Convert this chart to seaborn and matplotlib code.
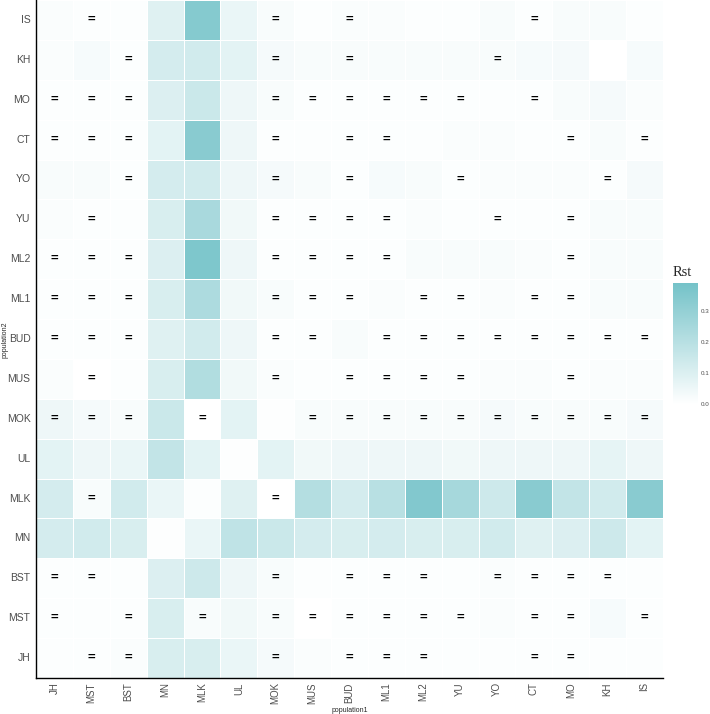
"""Rst heatmap between populations, with '=' marks on non-significant pairs."""

import matplotlib

matplotlib.use("Agg")

import matplotlib.pyplot as plt
import numpy as np
import pandas as pd
import seaborn as sns
from matplotlib.colors import LinearSegmentedColormap

# x axis (population1), left to right
POP1 = ["JH", "MST", "BST", "MN", "MLK", "UL", "MOK", "MUS", "BUD",
        "ML1", "ML2", "YU", "YO", "CT", "MO", "KH", "IS"]
# y axis (population2), top to bottom
POP2 = ["IS", "KH", "MO", "CT", "YO", "YU", "ML2", "ML1", "BUD",
        "MUS", "MOK", "UL", "MLK", "MN", "BST", "MST", "JH"]

# Rst values, one row per population2 entry, columns in POP1 order
RST_IS = [0.015, 0.01, 0.01, 0.09, 0.34, 0.06, 0.02, 0.01, 0.015, 0.015, 0.01, 0.01, 0.02, 0.01, 0.02, 0.02, 0.01]
RST_KH = [0.015, 0.025, 0.01, 0.12, 0.13, 0.08, 0.03, 0.02, 0.02, 0.02, 0.02, 0.02, 0.02, 0.025, 0.03, 0.0, 0.025]
RST_MO = [0.01, 0.01, 0.01, 0.10, 0.15, 0.05, 0.02, 0.01, 0.01, 0.01, 0.01, 0.01, 0.01, 0.01, 0.02, 0.03, 0.015]
RST_CT = [0.01, 0.01, 0.01, 0.08, 0.33, 0.05, 0.01, 0.01, 0.01, 0.01, 0.01, 0.015, 0.015, 0.01, 0.01, 0.02, 0.01]
RST_YO = [0.02, 0.02, 0.01, 0.12, 0.13, 0.05, 0.03, 0.02, 0.01, 0.025, 0.02, 0.01, 0.015, 0.015, 0.015, 0.01, 0.03]
RST_YU = [0.015, 0.01, 0.01, 0.11, 0.24, 0.04, 0.01, 0.01, 0.01, 0.01, 0.015, 0.01, 0.01, 0.01, 0.01, 0.02, 0.02]
RST_ML2 = [0.01, 0.01, 0.01, 0.10, 0.36, 0.05, 0.01, 0.01, 0.01, 0.01, 0.02, 0.02, 0.02, 0.015, 0.01, 0.02, 0.02]
RST_ML1 = [0.01, 0.01, 0.01, 0.11, 0.23, 0.04, 0.02, 0.01, 0.01, 0.015, 0.01, 0.01, 0.015, 0.01, 0.01, 0.02, 0.02]
RST_BUD = [0.01, 0.01, 0.01, 0.09, 0.13, 0.05, 0.01, 0.01, 0.02, 0.01, 0.01, 0.01, 0.01, 0.01, 0.01, 0.01, 0.01]
RST_MUS = [0.015, 0.0, 0.01, 0.11, 0.22, 0.04, 0.015, 0.01, 0.01, 0.01, 0.01, 0.01, 0.015, 0.015, 0.01, 0.015, 0.015]
RST_MOK = [0.05, 0.03, 0.02, 0.15, 0.0, 0.08, 0.005, 0.02, 0.02, 0.02, 0.02, 0.02, 0.03, 0.02, 0.02, 0.02, 0.03]
RST_UL = [0.08, 0.05, 0.06, 0.17, 0.08, 0.005, 0.08, 0.04, 0.05, 0.05, 0.05, 0.04, 0.05, 0.05, 0.05, 0.07, 0.05]
RST_MLK = [0.12, 0.02, 0.13, 0.06, 0.01, 0.09, 0.0, 0.21, 0.12, 0.20, 0.35, 0.25, 0.14, 0.33, 0.17, 0.13, 0.33]
RST_MN = [0.12, 0.13, 0.11, 0.005, 0.06, 0.18, 0.15, 0.12, 0.11, 0.12, 0.11, 0.11, 0.13, 0.09, 0.10, 0.14, 0.08]
RST_BST = [0.01, 0.01, 0.01, 0.10, 0.14, 0.05, 0.02, 0.01, 0.01, 0.01, 0.01, 0.01, 0.015, 0.01, 0.01, 0.01, 0.01]
RST_MST = [0.01, 0.01, 0.01, 0.11, 0.02, 0.04, 0.02, 0.0, 0.01, 0.01, 0.01, 0.01, 0.015, 0.01, 0.01, 0.025, 0.01]
RST_JH = [0.01, 0.01, 0.015, 0.11, 0.11, 0.06, 0.03, 0.015, 0.01, 0.01, 0.01, 0.01, 0.01, 0.01, 0.01, 0.01, 0.01]

# pairs marked "=" (population2 -> list of population1)
EQUAL_MARKS = {
    "IS": ["MST", "MOK", "BUD", "CT"],
    "KH": ["BST", "MOK", "BUD", "YO"],
    "MO": ["JH", "MST", "BST", "MOK", "MUS", "BUD", "ML1", "ML2", "YU", "CT"],
    "CT": ["JH", "MST", "BST", "MOK", "BUD", "ML1", "MO", "IS"],
    "YO": ["BST", "MOK", "BUD", "YU", "KH"],
    "YU": ["MST", "MOK", "MUS", "BUD", "ML1", "YO", "MO"],
    "ML2": ["JH", "MST", "BST", "MOK", "MUS", "BUD", "ML1", "MO"],
    "ML1": ["JH", "MST", "BST", "MOK", "MUS", "BUD", "ML2", "YU", "CT", "MO"],
    "BUD": ["JH", "MST", "BST", "MOK", "MUS", "ML1", "ML2", "YU", "YO", "CT", "MO", "KH", "IS"],
    "MUS": ["MST", "MOK", "BUD", "ML1", "ML2", "YU", "MO"],
    "MOK": ["JH", "MST", "BST", "MLK", "MUS", "BUD", "ML1", "ML2", "YU", "YO", "CT", "MO", "KH", "IS"],
    "UL": [],
    "MLK": ["MST", "MOK"],
    "MN": [],
    "BST": ["JH", "MST", "MOK", "BUD", "ML1", "ML2", "YO", "CT", "MO", "KH"],
    "MST": ["JH", "BST", "MLK", "MOK", "MUS", "BUD", "ML1", "ML2", "YU", "CT", "MO", "IS"],
    "JH": ["MST", "BST", "MOK", "BUD", "ML1", "ML2", "CT", "MO"],
}

CBAR_TICKS = [0.0, 0.1, 0.2, 0.3]
VMAX = 0.39


def main() -> None:
    rows = [RST_IS, RST_KH, RST_MO, RST_CT, RST_YO, RST_YU, RST_ML2, RST_ML1, RST_BUD,
            RST_MUS, RST_MOK, RST_UL, RST_MLK, RST_MN, RST_BST, RST_MST, RST_JH]
    data = pd.DataFrame(rows, index=POP2, columns=POP1)
    annot = pd.DataFrame("", index=POP2, columns=POP1)
    for p2, cols in EQUAL_MARKS.items():
        for p1 in cols:
            annot.loc[p2, p1] = "="

    cmap = LinearSegmentedColormap.from_list("rst", ["#ffffff", "#74c2c8"])

    sns.set_style("white")
    plt.rcParams["font.family"] = ["Liberation Sans", "DejaVu Sans"]

    fig = plt.figure(figsize=(7.1, 7.14), dpi=100)
    ax = fig.add_axes([36 / 710, 1 - 678 / 714, 627 / 710, 678 / 714])
    cax = fig.add_axes([673 / 710, 1 - 404 / 714, 25 / 710, 121 / 714])

    sns.heatmap(
        data,
        ax=ax,
        cbar_ax=cax,
        cmap=cmap,
        vmin=0,
        vmax=VMAX,
        annot=annot.values,
        fmt="",
        annot_kws={"color": "black", "fontsize": 9.5, "fontweight": "bold"},
        linewidths=0.4,
        linecolor="white",
    )

    for side in ["left", "bottom"]:
        ax.spines[side].set_visible(True)
        ax.spines[side].set_color("black")
        ax.spines[side].set_linewidth(1.0)
    ax.tick_params(axis="y", length=0, labelsize=7.5, labelcolor="#4d4d4d", pad=4)
    ax.tick_params(axis="x", length=0, labelsize=7, labelcolor="#4d4d4d", pad=3)
    ax.set_xticklabels(POP1, rotation=90)
    ax.set_yticklabels(POP2, rotation=0)
    ax.set_xlabel("")
    ax.set_ylabel("")
    fig.text(350 / 710, 1 - 710 / 714, "population1", fontsize=5, ha="center", va="center")
    fig.text(5 / 710, 1 - 340 / 714, "population2", fontsize=5, ha="center", va="center",
             rotation=90)

    cax.set_yticks(CBAR_TICKS)
    cax.set_yticklabels([f"{t:.1f}" for t in CBAR_TICKS])
    cax.tick_params(axis="y", which="both", left=True, right=True, labelleft=False,
                    labelright=True, direction="in", color="white", length=4,
                    width=0.6, labelsize=4.5, labelcolor="#4d4d4d", pad=2)
    for spine in cax.spines.values():
        spine.set_visible(False)
    cax.set_title("Rst", fontsize=10.5, family="Liberation Serif", loc="left", pad=5)

    fig.savefig("out.png", dpi=100)
    plt.close(fig)


if __name__ == "__main__":
    main()
